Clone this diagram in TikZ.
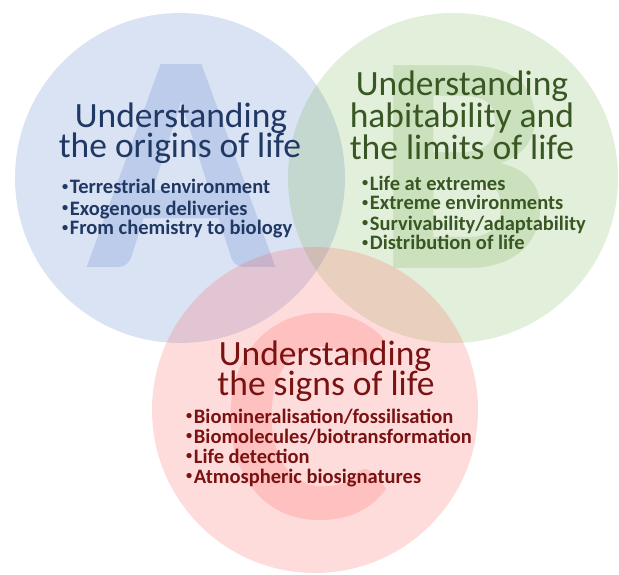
\documentclass[tikz,border=0pt]{standalone}
\usepackage{fontspec}
\setmainfont{Carlito}
\definecolor{cA}{HTML}{4472C4}
\definecolor{cB}{HTML}{70AD47}
\definecolor{cC}{HTML}{FF5050}
\definecolor{tA}{HTML}{203864}
\definecolor{tB}{HTML}{385723}
\definecolor{tC}{HTML}{7A1212}
\newcommand\bdot{\raisebox{0.17em}{\scalebox{0.6}{•}}\kern0.08em}
\begin{document}
\begin{tikzpicture}[x=1pt,y=-1pt,
  circ/.style={fill opacity=0.2},
  bigletter/.style={font=\fontsize{313}{313}\bfseries\selectfont, inner sep=0pt, anchor=base, text opacity=0.2},
  ttl/.style={font=\fontsize{35.5}{35}\selectfont, inner sep=0pt, anchor=base, text height=23pt, text depth=5pt},
  bul/.style={font=\fontsize{20.5}{21}\bfseries\selectfont, inner sep=0pt, anchor=base west, text height=13.5pt, text depth=4pt}]
\useasboundingbox (0,0) rectangle (619,575);
% circles and big letters
\fill[cA, circ] (180,178) circle[radius=165pt];
\node[bigletter, text=cA] (LA) at (181,267) {A};
\fill[cB, circ] (453,178) circle[radius=165pt];
\node[bigletter, text=cB] (LB) at (463,269) {B};
\fill[cC, circ] (315,410) circle[radius=163pt];
\node[bigletter, text=cC] (LC) at (307,518) {C};
% A texts
\node[ttl, text=tA] (a1) at (181,128) {Understanding};
\node[ttl, text=tA] (a2) at (180,158) {the origins of life};
\node[bul, text=tA] (a3) at (62,194) {\bdot Terrestrial environment};
\node[bul, text=tA] (a4) at (62,215) {\bdot Exogenous deliveries};
\node[bul, text=tA] (a5) at (62,235) {\bdot From chemistry to biology};
% B texts
\node[ttl, text=tB] (b1) at (462,96) {Understanding};
\node[ttl, text=tB] (b2) at (462,128) {habitability and};
\node[ttl, text=tB] (b3) at (462,160) {the limits of life};
\node[bul, text=tB] (b4) at (362,190) {\bdot Life at extremes};
\node[bul, text=tB] (b5) at (362,210) {\bdot Extreme environments};
\node[bul, text=tB] (b6) at (362,230) {\bdot Survivability/adaptability};
\node[bul, text=tB] (b7) at (362,250) {\bdot Distribution of life};
% C texts
\node[ttl, text=tC] (c1) at (325,365) {Understanding};
\node[ttl, text=tC] (c2) at (326,395) {the signs of life};
\node[bul, text=tC] (c3) at (186,423) {\bdot Biomineralisation/fossilisation};
\node[bul, text=tC] (c4) at (186,443) {\bdot Biomolecules/biotransformation};
\node[bul, text=tC] (c5) at (186,463) {\bdot Life detection};
\node[bul, text=tC] (c6) at (186,483) {\bdot Atmospheric biosignatures};
\end{tikzpicture}
\end{document}
